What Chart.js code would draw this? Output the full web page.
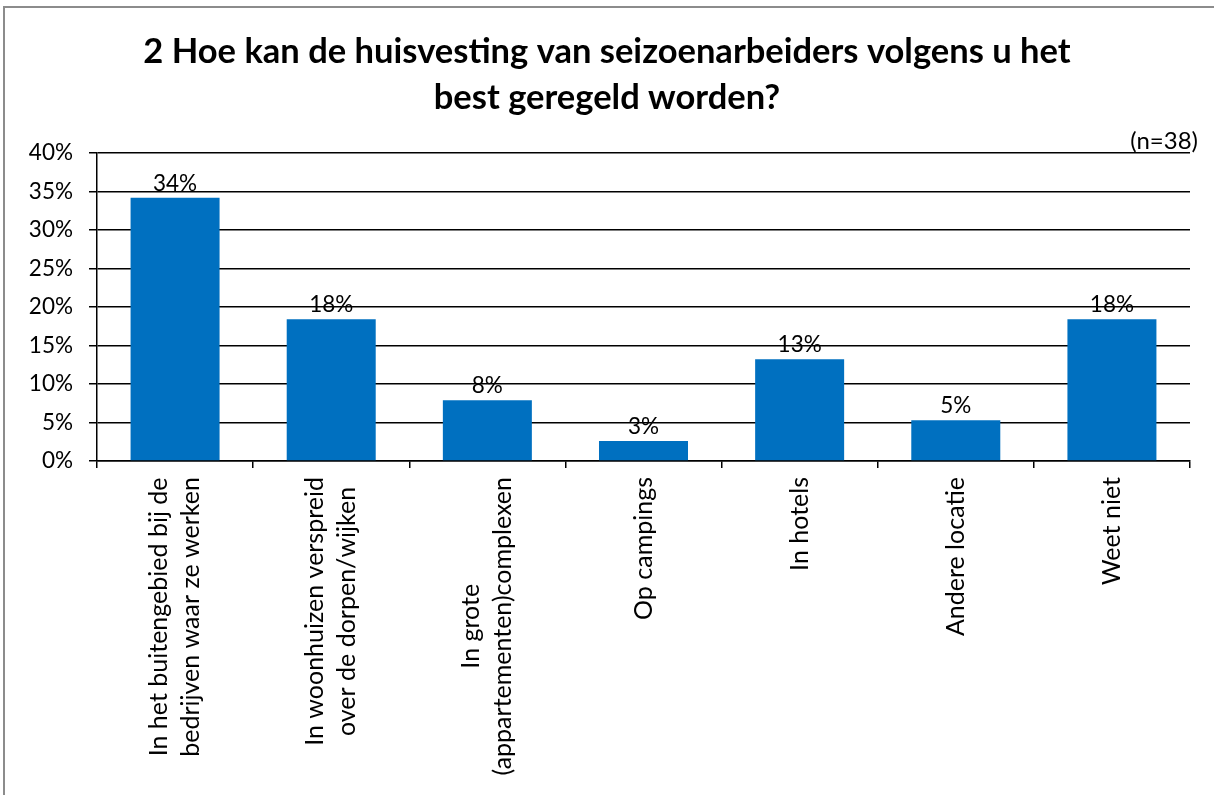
<!DOCTYPE html>
<html>
<head>
<meta charset="utf-8">
<script src="https://cdn.jsdelivr.net/npm/chart.js@4"></script>
<style>
  body { margin: 0; background: #fff; }
  #grafiek { display: block; }
</style>
</head>
<body>
<canvas id="grafiek" width="1214" height="795"></canvas>
<script>
// gegevens
const categorieen = [
    ['In het buitengebied bij de', 'bedrijven waar ze werken'],
    ['In woonhuizen verspreid', 'over de dorpen/wijken'],
    ['In grote', '(appartementen)complexen'],
    ['Op campings'],
    ['In hotels'],
    ['Andere locatie'],
    ['Weet niet']
];
const percentages = [34.2, 18.4, 7.9, 2.6, 13.2, 5.3, 18.4];
const yTicks = [0, 5, 10, 15, 20, 25, 30, 35, 40];
const titelRegels = ['2 Hoe kan de huisvesting van seizoenarbeiders volgens u het', 'best geregeld worden?'];
const aantalRespondenten = '(n=38)';

const lettertype = 'Lato, "Open Sans", sans-serif';
const tekstGrootte = 22.5;
const labelGrootte = 25;

// grijze kader + witte achtergrond
const kaderPlugin = {
    id: 'kader',
    beforeDraw(chart) {
        const c = chart.ctx;
        c.save();
        c.fillStyle = '#fff';
        c.fillRect(0, 0, chart.width, chart.height);
        c.strokeStyle = '#8c8c8c';
        c.lineWidth = 2;
        c.beginPath();
        c.moveTo(4, chart.height);
        c.lineTo(4, 7);
        c.lineTo(chart.width, 7);
        c.stroke();
        c.restore();
    }
};

// percentages boven de staven
const waardenPlugin = {
    id: 'waarden',
    afterDatasetsDraw(chart) {
        const c = chart.ctx;
        c.save();
        c.font = `${tekstGrootte}px ${lettertype}`;
        c.fillStyle = '#000';
        c.textAlign = 'center';
        c.textBaseline = 'alphabetic';
        chart.getDatasetMeta(0).data.forEach((staaf, i) => {
            c.fillText(Math.round(percentages[i]) + '%', staaf.x, staaf.y - 7);
        });
        c.restore();
    }
};

// gedraaide categorielabels (regels gecentreerd t.o.v. elkaar) en (n=38)
const labelsPlugin = {
    id: 'labels',
    afterDraw(chart) {
        const c = chart.ctx;
        const xAs = chart.scales.x;
        const start = chart.chartArea.bottom + 16;
        c.save();
        c.font = `${labelGrootte}px ${lettertype}`;
        c.fillStyle = '#000';
        categorieen.forEach((regels, i) => {
            const x = xAs.getPixelForValue(i);
            const langste = Math.max(...regels.map(r => c.measureText(r).width));
            const midden = start + langste / 2;
            regels.forEach((regel, j) => {
                c.save();
                c.translate(x + (j - (regels.length - 1) / 2) * 32, midden);
                c.rotate(-Math.PI / 2);
                c.textAlign = 'center';
                c.textBaseline = 'middle';
                c.fillText(regel, 0, 0);
                c.restore();
            });
        });
        c.font = `24px ${lettertype}`;
        c.textAlign = 'right';
        c.textBaseline = 'alphabetic';
        c.fillText(aantalRespondenten, 1198, 149);
        c.restore();
    }
};

const data = {
    labels: categorieen,
    datasets: [{
        data: percentages,
        backgroundColor: '#0070C0',
        barPercentage: 0.57,
        categoryPercentage: 1
    }]
};

const config = {
    type: 'bar',
    data: data,
    options: {
        responsive: false,
        animation: false,
        events: [],
        layout: { padding: 0 },
        plugins: {
            legend: { display: false },
            tooltip: { enabled: false },
            title: {
                display: true,
                text: titelRegels,
                color: '#000',
                font: { family: lettertype, size: 34.5, weight: 'bold', lineHeight: '46px' },
                padding: { top: 29, bottom: 32 }
            }
        },
        scales: {
            x: {
                offset: true,
                grid: { display: true, offset: true, drawOnChartArea: false, drawTicks: true, tickLength: 7, color: '#000', lineWidth: 1.5 },
                border: { display: true, color: '#000', width: 1.5 },
                ticks: { display: false },
                afterFit: (scale) => { scale.height = 795 - 461; }
            },
            y: {
                min: 0,
                max: 40,
                afterBuildTicks: (scale) => { scale.ticks = yTicks.map(v => ({ value: v })); },
                ticks: {
                    color: '#000',
                    padding: 16,
                    font: { family: lettertype, size: tekstGrootte },
                    callback: (v) => v + '%'
                },
                grid: { color: '#000', lineWidth: 1.5, tickLength: 8 },
                border: { display: true, color: '#000', width: 1.5 },
                afterFit: (scale) => { scale.width = 97; }
            },
            // lege rechterkant, zodat de titel over de hele breedte centreert
            rechts: {
                type: 'linear',
                position: 'right',
                grid: { display: false },
                border: { display: false },
                ticks: { display: false },
                afterFit: (scale) => { scale.width = 24; }
            }
        }
    },
    plugins: [kaderPlugin, waardenPlugin, labelsPlugin]
};

const grafiek = new Chart(document.getElementById('grafiek').getContext('2d'), config);
</script>
</body>
</html>
